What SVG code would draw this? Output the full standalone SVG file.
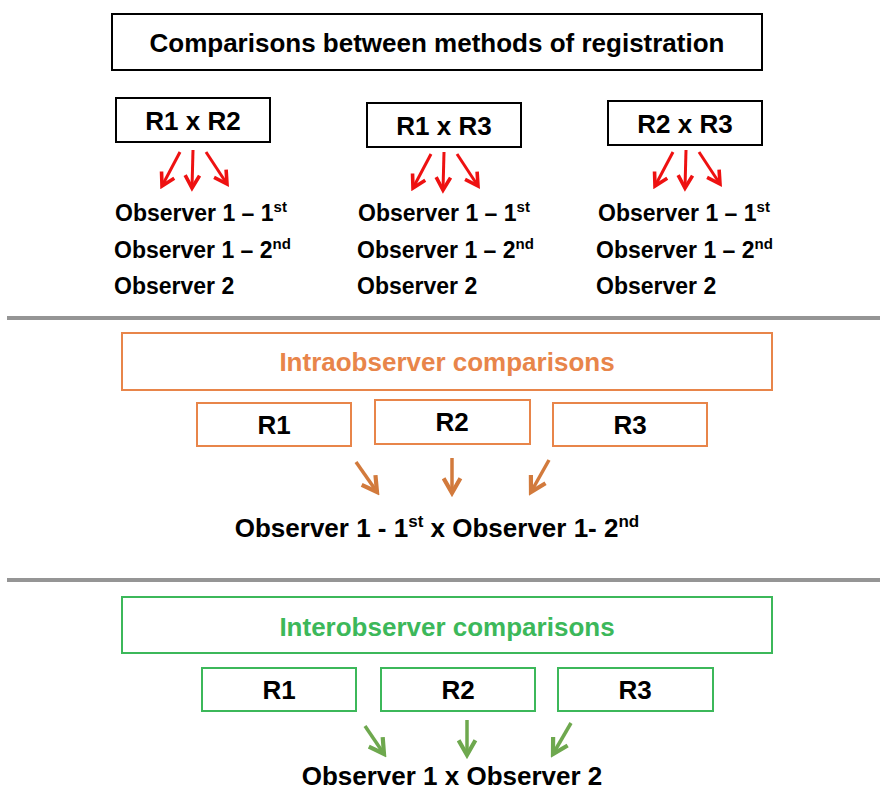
<svg xmlns="http://www.w3.org/2000/svg" width="880" height="792" viewBox="0 0 880 792">
<defs>
<style>
text{font-family:"Liberation Sans",Arial,sans-serif;font-weight:bold;fill:#000}
.box{fill:#fff;stroke:#000;stroke-width:2}
.obox{fill:#fff;stroke:#E8854A;stroke-width:2}
.gbox{fill:#fff;stroke:#3CB85A;stroke-width:2}
.t22{font-size:26px}
.t19{font-size:23px}
.sup{font-size:15px}
.sep{stroke:#959595;stroke-width:4}
.ra{stroke:#EE1111;stroke-width:3;fill:none;marker-end:url(#mr)}
.oa{stroke:#D27A3C;stroke-width:3.5;fill:none;marker-end:url(#mo)}
.ga{stroke:#6EA84E;stroke-width:3.5;fill:none;marker-end:url(#mg)}
</style>
<marker id="mr" viewBox="0 0 10 10" refX="8" refY="5" markerWidth="6" markerHeight="6" orient="auto" markerUnits="strokeWidth"><path d="M1,1 L8,5 L1,9" fill="none" stroke="#EE1111" stroke-width="2"/></marker>
<marker id="mo" viewBox="0 0 10 10" refX="8" refY="5" markerWidth="6" markerHeight="6" orient="auto" markerUnits="strokeWidth"><path d="M1,1 L8,5 L1,9" fill="none" stroke="#D27A3C" stroke-width="2"/></marker>
<marker id="mg" viewBox="0 0 10 10" refX="8" refY="5" markerWidth="6" markerHeight="6" orient="auto" markerUnits="strokeWidth"><path d="M1,1 L8,5 L1,9" fill="none" stroke="#6EA84E" stroke-width="2"/></marker>
</defs>
<rect width="880" height="792" fill="#fff"/>

<g id="title"><rect class="box" x="112" y="14" width="650" height="56"/><text class="t22" x="437" y="52" text-anchor="middle">Comparisons between methods of registration</text></g>

<g id="r1xr2"><rect class="box" x="116" y="98" width="154" height="44"/><text class="t22" x="193" y="130" text-anchor="middle">R1 x R2</text></g>
<g id="r1xr3"><rect class="box" x="367" y="103" width="154" height="44"/><text class="t22" x="444" y="135" text-anchor="middle">R1 x R3</text></g>
<g id="r2xr3"><rect class="box" x="608" y="101" width="154" height="44"/><text class="t22" x="685" y="133" text-anchor="middle">R2 x R3</text></g>

<g id="list1">
<text class="t19" x="115" y="221">Observer 1 – 1<tspan class="sup" dy="-9">st</tspan></text>
<text class="t19" x="114" y="258">Observer 1 – 2<tspan class="sup" dy="-9">nd</tspan></text>
<text class="t19" x="114" y="294">Observer 2</text>
</g>
<g id="list2">
<text class="t19" x="358" y="221">Observer 1 – 1<tspan class="sup" dy="-9">st</tspan></text>
<text class="t19" x="357" y="258">Observer 1 – 2<tspan class="sup" dy="-9">nd</tspan></text>
<text class="t19" x="357" y="294">Observer 2</text>
</g>
<g id="list3">
<text class="t19" x="598" y="221">Observer 1 – 1<tspan class="sup" dy="-9">st</tspan></text>
<text class="t19" x="596" y="258">Observer 1 – 2<tspan class="sup" dy="-9">nd</tspan></text>
<text class="t19" x="596" y="294">Observer 2</text>
</g>

<line class="sep" x1="7" y1="318" x2="880" y2="318"/>

<g id="intra"><rect class="obox" x="122" y="333" width="650" height="57"/><text class="t22" x="447" y="371" text-anchor="middle" style="fill:#E8854A">Intraobserver comparisons</text></g>
<g id="intra-r1"><rect class="obox" x="197" y="403" width="154" height="43"/><text class="t22" x="274" y="434" text-anchor="middle">R1</text></g>
<g id="intra-r2"><rect class="obox" x="375" y="400" width="155" height="44"/><text class="t22" x="452" y="431" text-anchor="middle">R2</text></g>
<g id="intra-r3"><rect class="obox" x="553" y="403" width="154" height="43"/><text class="t22" x="630" y="434" text-anchor="middle">R3</text></g>
<g id="intra-result"><text class="t22" x="437" y="537" text-anchor="middle">Observer 1 - 1<tspan style="font-size:17px" dy="-10">st</tspan><tspan dy="10"> x Observer 1- 2</tspan><tspan style="font-size:17px" dy="-10">nd</tspan></text></g>

<line class="sep" x1="7" y1="580" x2="880" y2="580"/>

<g id="inter"><rect class="gbox" x="122" y="597" width="650" height="56"/><text class="t22" x="447" y="636" text-anchor="middle" style="fill:#3CB85A">Interobserver comparisons</text></g>
<g id="inter-r1"><rect class="gbox" x="202" y="668" width="154" height="43"/><text class="t22" x="279" y="699" text-anchor="middle">R1</text></g>
<g id="inter-r2"><rect class="gbox" x="381" y="668" width="154" height="43"/><text class="t22" x="458" y="699" text-anchor="middle">R2</text></g>
<g id="inter-r3"><rect class="gbox" x="558" y="668" width="155" height="43"/><text class="t22" x="635" y="699" text-anchor="middle">R3</text></g>
<g id="inter-result"><text class="t22" x="452" y="785" text-anchor="middle">Observer 1 x Observer 2</text></g>

<g id="connectors">
<path class="ra" d="M180,152 L162,186"/>
<path class="ra" d="M193,150 L192,188"/>
<path class="ra" d="M206,152 L227,184"/>
<path class="ra" d="M431,154 L413,188"/>
<path class="ra" d="M444,152 L443,190"/>
<path class="ra" d="M457,154 L478,186"/>
<path class="ra" d="M673,152 L655,186"/>
<path class="ra" d="M686,150 L685,188"/>
<path class="ra" d="M699,152 L720,184"/>
<path class="oa" d="M356,462 L377,492"/>
<path class="oa" d="M452,458 L452,493"/>
<path class="oa" d="M549,460 L531,492"/>
<path class="ga" d="M365,726 L384,754"/>
<path class="ga" d="M467,720 L467,755"/>
<path class="ga" d="M571,723 L553,754"/>
</g>
</svg>
